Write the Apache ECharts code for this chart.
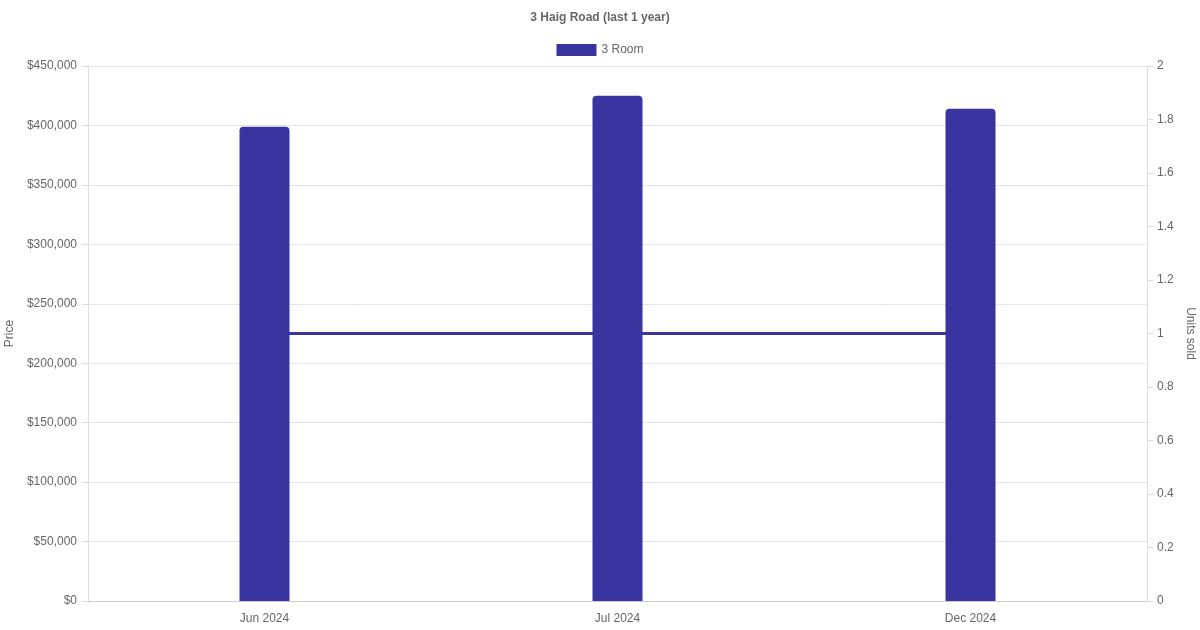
<!DOCTYPE html>
<html lang="en">
<head>
<meta charset="UTF-8">
<title>3 Haig Road</title>
<script src="https://cdn.jsdelivr.net/npm/echarts@6/dist/echarts.min.js"></script>
<style>
  html, body { margin: 0; padding: 0; background: #fff; }
</style>
</head>
<body>
<div id="main" style="width:1200px;height:630px"></div>
<script>
  // data
  let months = ['Jun 2024', 'Jul 2024', 'Dec 2024']
  let prices = [399000, 425000, 414000]
  let unitsSold = [1, 1, 1]

  let barColor = '#3934a0'
  let textColor = '#666'
  let font = 'Liberation Sans, Arial, sans-serif'

  let chart = echarts.init(document.getElementById('main'))
  chart.setOption({
    animation: false,
    title: {
      text: '3 Haig Road (last 1 year)',
      left: 'center',
      top: 7,
      textStyle: { fontSize: 12, fontWeight: 'bold', color: textColor, fontFamily: font }
    },
    legend: {
      top: 39,
      left: 'center',
      data: ['3 Room'],
      itemWidth: 40,
      itemHeight: 12,
      icon: 'rect',
      textStyle: { fontSize: 12, color: textColor, fontFamily: font }
    },
    grid: { left: 88, right: 53, top: 66, bottom: 29, containLabel: false, outerBoundsMode: 'none' },
    xAxis: {
      type: 'category',
      data: months,
      boundaryGap: true,
      axisLine: { lineStyle: { color: '#ccc' } },
      axisTick: { show: false },
      axisLabel: { color: textColor, fontSize: 12, fontFamily: font, margin: 12 }
    },
    yAxis: [
      {
        type: 'value',
        name: 'Price',
        nameLocation: 'middle',
        nameRotate: 90,
        nameGap: 69,
        nameTextStyle: { color: textColor, fontSize: 12, fontFamily: font },
        min: 0, max: 450000, interval: 50000,
        axisLine: { show: true, lineStyle: { color: '#ddd' } },
        axisTick: { show: true, length: 6, lineStyle: { color: '#ddd' } },
        splitLine: { lineStyle: { color: '#e5e5e5' } },
        axisLabel: {
          color: textColor, fontSize: 12, fontFamily: font, margin: 11,
          formatter: function (v) { return '$' + v.toLocaleString('en-US') }
        }
      },
      {
        type: 'value',
        name: 'Units sold',
        nameLocation: 'middle',
        nameRotate: -90,
        nameGap: 35,
        nameTextStyle: { color: textColor, fontSize: 12, fontFamily: font },
        min: 0, max: 2, interval: 0.2,
        axisLine: { show: true, lineStyle: { color: '#ddd' } },
        axisTick: { show: true, length: 6, lineStyle: { color: '#ddd' } },
        splitLine: { show: false },
        axisLabel: { color: textColor, fontSize: 12, fontFamily: font, margin: 10 }
      }
    ],
    series: [
      {
        name: 'Units sold',
        type: 'line',
        yAxisIndex: 1,
        data: unitsSold,
        showSymbol: false,
        lineStyle: { color: barColor, width: 3 },
        itemStyle: { color: barColor },
        z: 1
      },
      {
        name: '3 Room',
        type: 'bar',
        yAxisIndex: 0,
        data: prices,
        barWidth: 50,
        itemStyle: { color: barColor, borderRadius: [4, 4, 0, 0] },
        z: 3
      }
    ]
  })
</script>
</body>
</html>
